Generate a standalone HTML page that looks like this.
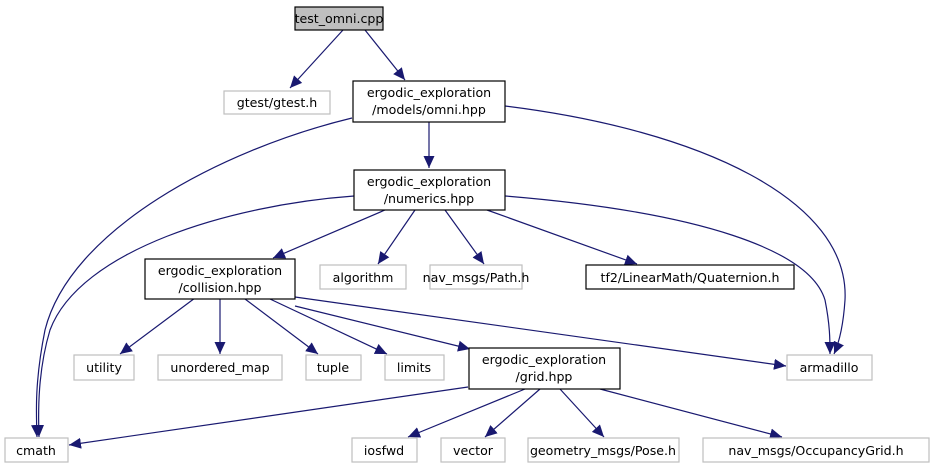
<!DOCTYPE html>
<html><head><meta charset="utf-8"><style>
html,body{margin:0;padding:0;background:#fff;}
svg{display:block;}
text{font-family:"DejaVu Sans","Liberation Sans",sans-serif;font-size:12.6px;fill:#000;text-anchor:middle;}
.b{fill:#fff;stroke:#000;stroke-width:1.2;}
.g{fill:#fff;stroke:#bfbfbf;stroke-width:1.2;}
.e{fill:none;stroke:#191970;stroke-width:1.2;marker-end:url(#a);}
</style></head><body>
<svg width="935" height="469" viewBox="0 0 935 469">
<defs><marker id="a" markerUnits="userSpaceOnUse" markerWidth="13" markerHeight="12" refX="12" refY="6" orient="auto"><path d="M0,0.5 L12,6 L0,11.5 z" fill="#191970"/></marker></defs>
<path class="e" d="M343,30 L290,88"/>
<path class="e" d="M365,30 L405,80"/>
<path class="e" d="M352,118 C220,150 70,230 45,330 C35,380 36,410 37,437"/>
<path class="e" d="M505,106 C700,130 850,200 845,300 C843,330 838,345 834,354"/>
<path class="e" d="M429,122 L429,168"/>
<path class="e" d="M354,196 C230,205 80,250 50,330 C38,370 38,410 39,437"/>
<path class="e" d="M385,210 L273,258"/>
<path class="e" d="M415,210 L378,264"/>
<path class="e" d="M445,210 L484,264"/>
<path class="e" d="M487,210 L637,264"/>
<path class="e" d="M505,196 C700,212 810,250 825,300 C830,325 830,340 830,354"/>
<path class="e" d="M195,298 L120,354"/>
<path class="e" d="M220,299 L220,354"/>
<path class="e" d="M245,299 L318,354"/>
<path class="e" d="M270,299 L387,354"/>
<path class="e" d="M295,306 L470,349"/>
<path class="e" d="M295,297 L786,366"/>
<path class="e" d="M468,387 L69,445"/>
<path class="e" d="M525,389 L408,437"/>
<path class="e" d="M540,389 L485,437"/>
<path class="e" d="M560,389 L604,437"/>
<path class="e" d="M600,389 L782,437"/>

<rect x="295" y="7" width="88" height="23" fill="#bfbfbf" stroke="#000" stroke-width="1.2"/><text x="339" y="23">test_omni.cpp</text>
<rect class="g" x="224" y="91" width="106" height="23"/><text x="277" y="107">gtest/gtest.h</text>
<rect class="b" x="353" y="81" width="152" height="41"/><text x="429" y="97">ergodic_exploration</text><text x="429" y="114">/models/omni.hpp</text>
<rect class="b" x="354" y="170" width="151" height="40"/><text x="429" y="186">ergodic_exploration</text><text x="429" y="203">/numerics.hpp</text>
<rect class="b" x="145" y="259" width="150" height="40"/><text x="220" y="275">ergodic_exploration</text><text x="220" y="292">/collision.hpp</text>
<rect class="g" x="320" y="265" width="86" height="24"/><text x="363" y="282">algorithm</text>
<rect class="g" x="430" y="265" width="92" height="24"/><text x="476" y="282">nav_msgs/Path.h</text>
<rect class="b" x="586" y="265" width="208" height="24"/><text x="690" y="282">tf2/LinearMath/Quaternion.h</text>
<rect class="g" x="74" y="355" width="60" height="25"/><text x="104" y="372">utility</text>
<rect class="g" x="158" y="355" width="124" height="25"/><text x="220" y="372">unordered_map</text>
<rect class="g" x="306" y="355" width="55" height="25"/><text x="333" y="372">tuple</text>
<rect class="g" x="385" y="355" width="59" height="25"/><text x="414" y="372">limits</text>
<rect class="b" x="469" y="348" width="151" height="41"/><text x="544" y="364">ergodic_exploration</text><text x="544" y="381">/grid.hpp</text>
<rect class="g" x="787" y="355" width="85" height="25"/><text x="829" y="372">armadillo</text>
<rect class="g" x="5" y="438" width="63" height="24"/><text x="36" y="455">cmath</text>
<rect class="g" x="352" y="438" width="65" height="24"/><text x="384" y="455">iosfwd</text>
<rect class="g" x="441" y="438" width="64" height="24"/><text x="473" y="455">vector</text>
<rect class="g" x="528" y="438" width="151" height="24"/><text x="603" y="455">geometry_msgs/Pose.h</text>
<rect class="g" x="703" y="438" width="226" height="24"/><text x="816" y="455">nav_msgs/OccupancyGrid.h</text>
</svg>
</body></html>
